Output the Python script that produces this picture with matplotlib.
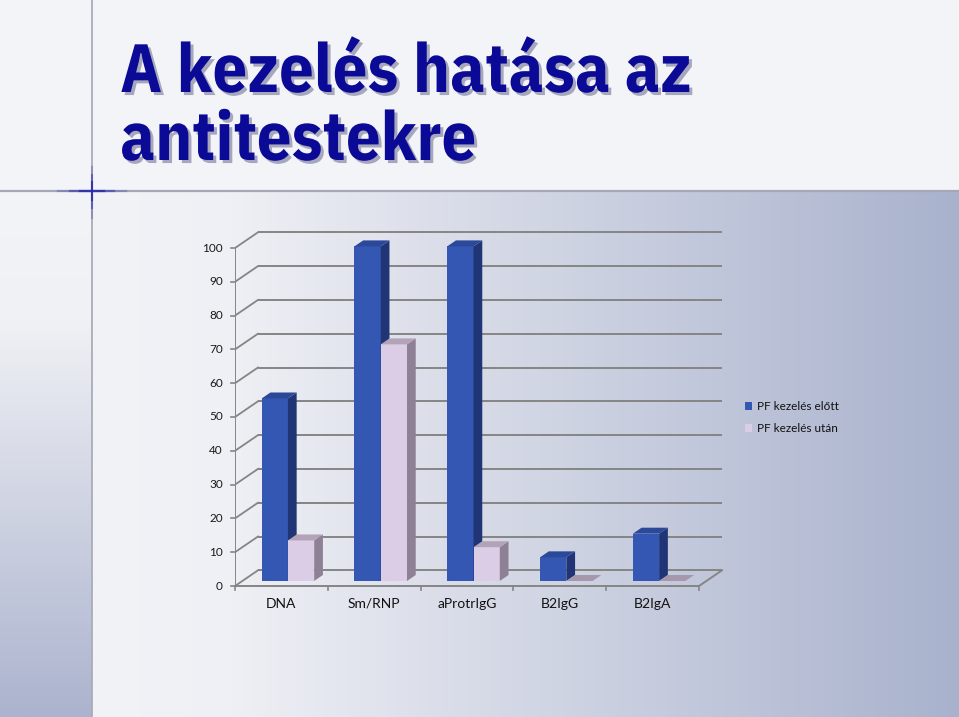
import matplotlib
matplotlib.use('Agg')
import matplotlib.pyplot as plt
import numpy as np
from matplotlib.patches import Polygon, Patch
from matplotlib.colors import to_rgb
from matplotlib import font_manager as fm
from matplotlib.textpath import TextPath
from matplotlib.font_manager import FontProperties
import matplotlib.patheffects as pe

# ---------------- data ----------------
categories = ['DNA', 'Sm/RNP', 'aProtrIgG', 'B2IgG', 'B2IgA']
before = [54, 99, 99, 7, 14]
after = [12, 70, 10, 0, 0]
series_names = ['PF kezelés előtt', 'PF kezelés után']
yticks = list(range(0, 101, 10))
title_lines = ['A kezelés hatása az', 'antitestekre']

W, H = 959, 717
fig = plt.figure(figsize=(W / 100, H / 100), dpi=100)
fig.patch.set_facecolor('#F3F4F8')

# ---------------- background ----------------
bg = fig.add_axes([0, 0, 1, 1])
bg.set_xlim(0, W)
bg.set_ylim(H, 0)
bg.axis('off')


def ramp(stops, colors, n):
    t = np.linspace(stops[0], stops[-1], n)
    cols = np.array([to_rgb(c) for c in colors])
    return np.stack([np.interp(t, stops, cols[:, k]) for k in range(3)], axis=-1)


main = ramp([93, 230, 959], ['#F2F3F7', '#EFF0F5', '#A9B2CD'], 400)[None, :, :]
bg.imshow(main, extent=(93, W, H, 192), aspect='auto', interpolation='bilinear', zorder=0)
left = ramp([191, 320, 717], ['#F3F4F7', '#F0F1F5', '#ABB3CE'], 300)[:, None, :]
bg.imshow(left, extent=(0, 91.5, H, 191), aspect='auto', interpolation='bilinear', zorder=0)
bg.set_xlim(0, W)
bg.set_ylim(H, 0)

bg.plot([0, W], [190.5, 190.5], color='#A4A7B8', lw=1.6, zorder=1)
bg.plot([92, 92], [0, H], color='#A9ABB9', lw=1.3, zorder=1)
for half, a in [(34, 0.25), (22, 0.45), (12, 0.8)]:
    bg.plot([92 - half, 92 + half], [190.5, 190.5], color='#2A2AA8', lw=1.6, alpha=a, zorder=2)
    bg.plot([92, 92], [190.5 - half * 0.7, 190.5 + half * 0.8], color='#2A2AA8', lw=1.5, alpha=a, zorder=2)

# ---------------- title ----------------
# pick the installed bold sans whose proportions best match the slide title
installed = {f.name for f in fm.fontManager.ttflist}
candidates = [c for c in ['Fira Sans Condensed', 'Roboto Condensed', 'IBM Plex Sans Condensed',
                          'Barlow Semi Condensed', 'Encode Sans Semi Condensed', 'Asap Condensed',
                          'PT Sans Narrow', 'Archivo Narrow', 'Open Sans', 'Open Sans Condensed']
              if c in installed]
renderer = fig.canvas.get_renderer()
target_w, target_cap = 571.0, 45.0
best = None
for fam in candidates:
    t = bg.text(0, 0, title_lines[0], fontsize=40, fontweight='bold', family=fam)
    wpx = t.get_window_extent(renderer).width
    t.remove()
    fp = FontProperties(family=fam, weight='bold', size=40)
    cap = TextPath((0, 0), 'H', prop=fp).get_extents().height * 100 / 72
    ratio = wpx / cap
    score = abs(ratio - target_w / target_cap)
    if best is None or score < best[0]:
        best = (score, fam, 40 * target_w / wpx)
title_family = [best[1], 'DejaVu Sans'] if best else ['DejaVu Sans']
title_size = best[2] if best else 40

shadow = [pe.withSimplePatchShadow(offset=(2.2, -2.2), shadow_rgbFace='#8C8CA8', alpha=0.75)]
for k, (line, yb) in enumerate(zip(title_lines, [92, 160])):
    bg.text(120, yb, line, ha='left', va='baseline', fontsize=title_size, fontweight='bold',
            family=title_family, color='#0A0A96', path_effects=shadow, zorder=5)

# ---------------- chart ----------------
PXX, PXY = 92.8, 3.38          # pixels per category / per unit
DX, DY = 23 / PXX, 15.7 / PXY  # depth vector in data units
ax = fig.add_axes([235 / W, (H - 586) / H, 500 / W, 370 / H])
ax.set_xlim(0, 500 / PXX)
ax.set_ylim(0, 370 / PXY)
ax.axis('off')
ax.patch.set_alpha(0)

n = len(categories)
grid_c = '#858585'
label_font = ['Lato', 'DejaVu Sans']
for v in yticks:
    ax.plot([DX, n + DX], [v + DY, v + DY], color=grid_c, lw=1.4, zorder=1, solid_capstyle='butt')
    ax.plot([0, DX], [v, v + DY], color=grid_c, lw=1.3, zorder=1)
    ax.plot([-4 / PXX, 0], [v, v], color=grid_c, lw=1.2, clip_on=False)
    ax.text(-12 / PXX, v, str(v), ha='right', va='center', fontsize=8.5,
            family=label_font, color='#1A1A1A', clip_on=False)
ax.plot([0, 0], [0, yticks[-1]], color=grid_c, lw=1.4, zorder=1)
ax.plot([0, n, n + DX], [0, 0, DY], color=grid_c, lw=1.4, zorder=1, clip_on=False)
for i in range(n + 1):
    ax.plot([i, i], [0, -4 / PXY], color=grid_c, lw=1.2, clip_on=False)
for i, c in enumerate(categories):
    ax.text(i + 0.5, -18 / PXY, c, ha='center', va='center', fontsize=10,
            family=label_font, color='#111111', clip_on=False)

bw = 0.283
off = 0.208
d0, d1 = 0.32, 0.70
series = [before, after]
styles = [dict(front='#3457B3', top='#2B4899', side='#1F3575', flat='#2B4899'),
          dict(front='#DCCDE6', top='#B3A3B9', side='#8F8195', flat='#A597AC')]
z = 3
for i in range(n):
    for s, vals in enumerate(series):
        v = vals[i]
        st = styles[s]
        x0 = i + off + s * bw
        fx, fy = x0 + d0 * DX, d0 * DY
        bx, by = x0 + d1 * DX, d1 * DY
        if v > 0:
            ax.bar(fx, v, width=bw, bottom=fy, align='edge', color=st['front'],
                   linewidth=0, zorder=z)
            ax.add_patch(Polygon([(fx + bw, fy), (bx + bw, by), (bx + bw, by + v), (fx + bw, fy + v)],
                                 closed=True, fc=st['side'], lw=0, zorder=z))
        ax.add_patch(Polygon([(fx, fy + v), (fx + bw, fy + v), (bx + bw, by + v), (bx, by + v)],
                             closed=True, fc=st['top'] if v > 0 else st['flat'], lw=0, zorder=z))
        z += 1

handles = [Patch(facecolor=styles[0]['front'], edgecolor='none'),
           Patch(facecolor=styles[1]['front'], edgecolor='none')]
leg = fig.legend(handles, series_names, loc='upper left',
                 bbox_to_anchor=(745 / W, 1 - 401 / H), bbox_transform=fig.transFigure,
                 frameon=False, handlelength=0.6, handleheight=0.6,
                 handletextpad=0.4, labelspacing=0.95, borderpad=0, borderaxespad=0,
                 prop={'family': label_font, 'size': 8.5})
for t in leg.get_texts():
    t.set_color('#111111')

fig.savefig('out.png', dpi=100)
